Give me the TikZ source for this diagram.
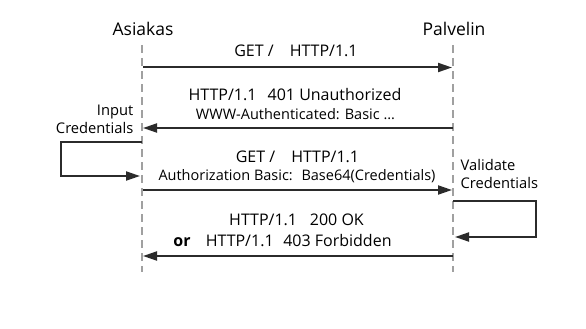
\documentclass[tikz,border=0pt]{standalone}
\usepackage{fontspec}
\setmainfont{Open Sans}
\usetikzlibrary{arrows.meta}
\definecolor{ink}{HTML}{2B2B2B}
\definecolor{life}{HTML}{A0A0A0}
\tikzset{
  actor/.style={font=\fontsize{17.5}{20}\selectfont, inner sep=0pt},
  msg/.style={font=\fontsize{16}{19}\selectfont, inner sep=0pt},
  msgs/.style={font=\fontsize{14.5}{17}\selectfont, inner sep=0pt},
  note/.style={font=\fontsize{14.7}{18}\selectfont, inner sep=0pt},
  lifeline/.style={draw=life, line width=2pt, dash pattern=on 8pt off 5pt},
  arr/.style={draw=ink, line width=2pt, -{Triangle[length=14pt,width=9pt]}},
}
\begin{document}
\begin{tikzpicture}[x=1pt,y=-1pt]
\useasboundingbox (0,0) rectangle (586,329);
% actors
\node[actor] (A) at (143,29) {Asiakas};
\node[actor] (P) at (454,29) {Palvelin};
% lifeline coordinates
\coordinate (a0) at (142,45);
\coordinate (a1) at (142,272);
\coordinate (p0) at (453,45);
\coordinate (p1) at (453,272);
\draw[lifeline] (a0) -- (a1);
\draw[lifeline] (p0) -- (p1);
% message 1
\coordinate (m1a) at (143,67.5);
\coordinate (m1p) at (452,67.5);
\draw[arr] (m1a) -- (m1p);
\node[msg] (t1) at (296,51) {GET /\hspace{1em}HTTP/1.1};
% message 2
\coordinate (m2a) at (143,128);
\coordinate (m2p) at (453,128);
\draw[arr] (m2p) -- (m2a);
\node[msg] (t2) at (295,95) {HTTP/1.1\hspace{0.7em}401 Unauthorized};
\node[msgs] (t2b) at (295.5,114) {WWW-Authenticated: Basic ...};
\node[note, anchor=east, align=right] (n1) at (133.5,119) {Input\\Credentials};
% self loop client
\coordinate (l1s) at (142,142);
\coordinate (l1c) at (61,142);
\coordinate (l1d) at (61,176);
\coordinate (l1e) at (140,176);
\draw[arr] (l1s) -- (l1c) -- (l1d) -- (l1e);
% message 3
\coordinate (m3a) at (143,190);
\coordinate (m3p) at (452,190);
\draw[arr] (m3a) -- (m3p);
\node[msg] (t3) at (297.5,157) {GET /\hspace{1em}HTTP/1.1};
\node[msgs] (t3b) at (297,176) {Authorization Basic:\hspace{0.6em}Base64(Credentials)};
\node[note, anchor=west, align=left] (n2) at (460.5,173.5) {Validate\\Credentials};
% self loop server
\coordinate (l2s) at (453,201);
\coordinate (l2c) at (536,201);
\coordinate (l2d) at (536,237);
\coordinate (l2e) at (455,237);
\draw[arr] (l2s) -- (l2c) -- (l2d) -- (l2e);
% message 4
\coordinate (m4a) at (143,256);
\coordinate (m4p) at (453,256);
\draw[arr] (m4p) -- (m4a);
\node[msg] (t4) at (296.5,220) {HTTP/1.1\hspace{0.8em}200 OK};
\node[msg] (t4b) at (282.5,241) {\textbf{or}\hspace{0.95em}HTTP/1.1\hspace{0.6em}403 Forbidden};
\end{tikzpicture}
\end{document}
